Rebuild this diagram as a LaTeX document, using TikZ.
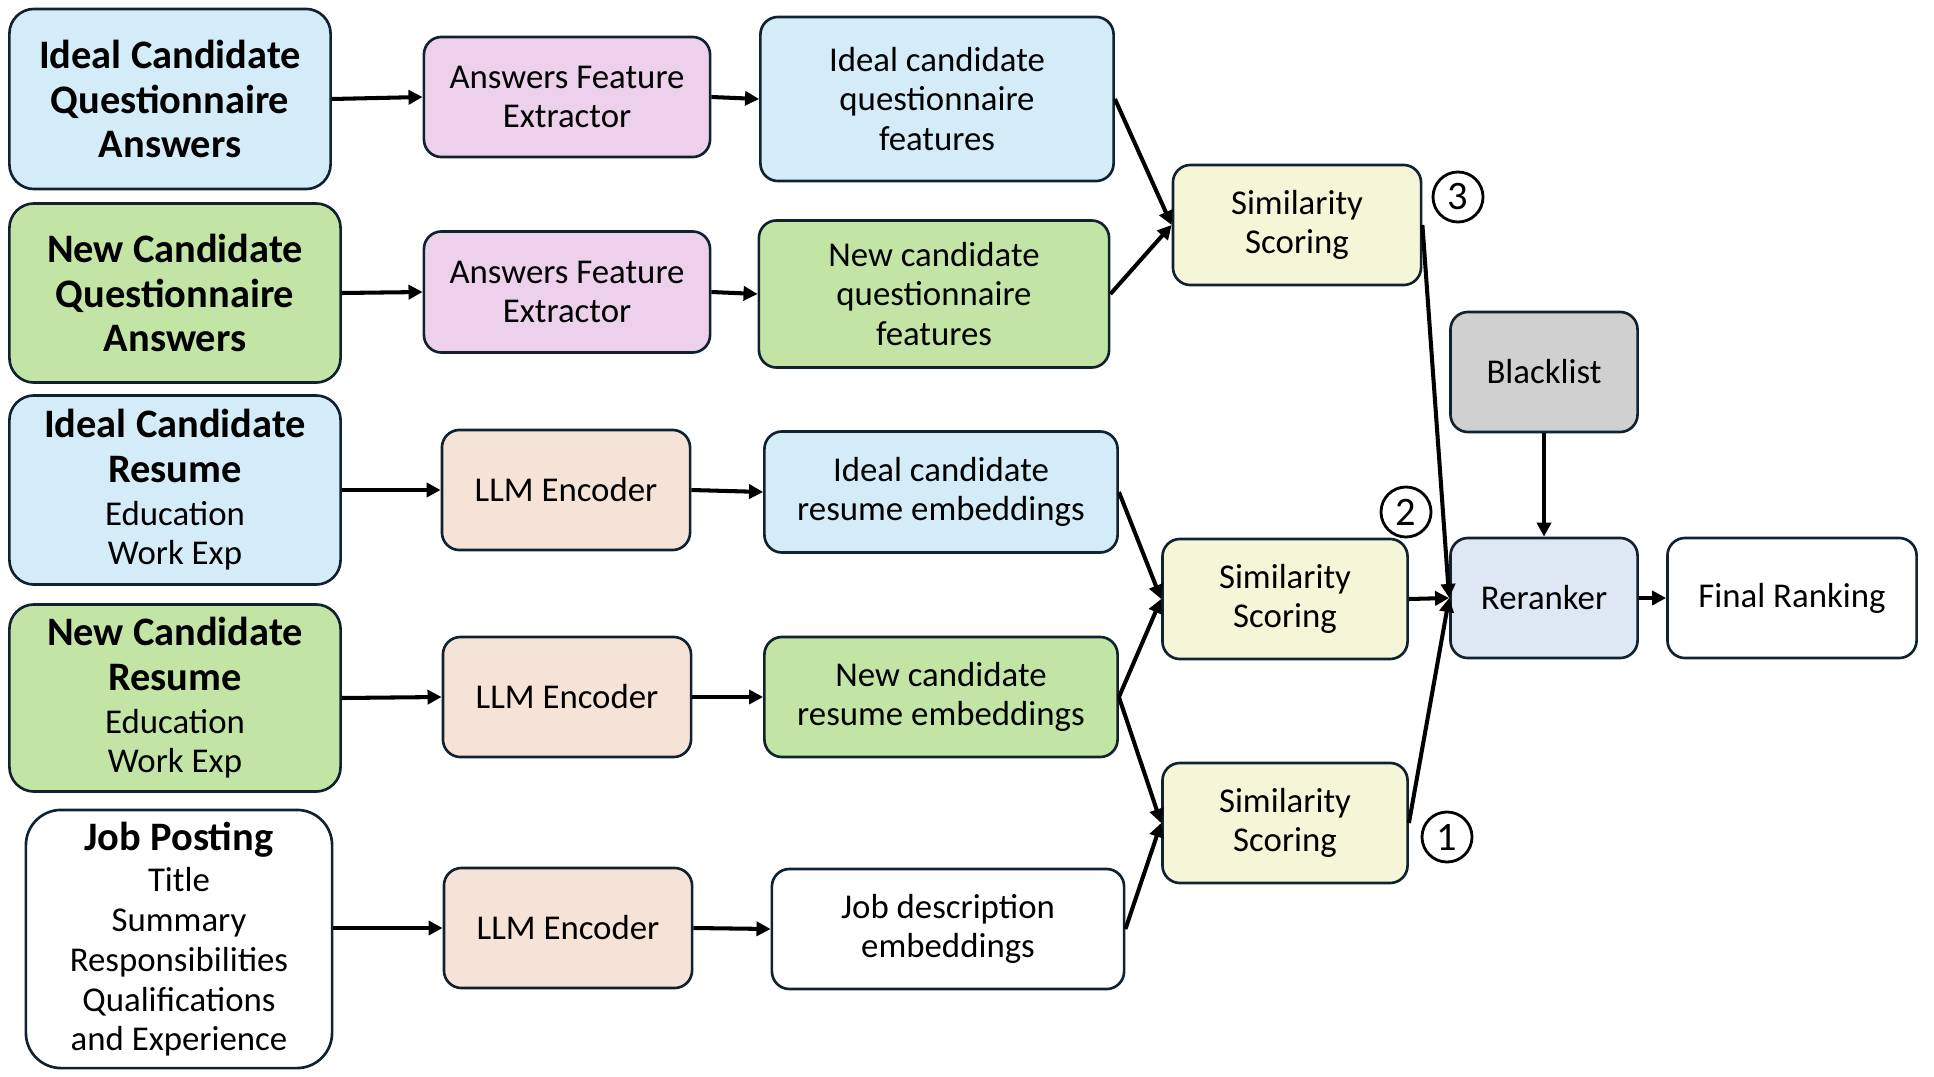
\documentclass[tikz,border=0pt]{standalone}
\usepackage{fontspec}
\setmainfont{Carlito}
\usetikzlibrary{arrows.meta}

\definecolor{boxline}{HTML}{10212F}
\definecolor{idealblue}{HTML}{D3ECF8}
\definecolor{newgreen}{HTML}{C2E5A6}
\definecolor{extpink}{HTML}{EDD1EC}
\definecolor{encpeach}{HTML}{F6E3D8}
\definecolor{simyellow}{HTML}{F5F6D8}
\definecolor{listgray}{HTML}{D0D0D0}
\definecolor{rankblue}{HTML}{DEE8F4}

\newcommand{\basefont}{\fontsize{9.9}{11.3}\selectfont}
\newcommand{\headfont}{\fontsize{11.5}{12.6}\selectfont\bfseries}

\begin{document}
\begin{tikzpicture}[x=0.01cm, y=-0.01cm,
    box/.style={draw=boxline, line width=0.75pt, rounded corners=5pt,
      align=center, inner sep=1pt, font=\basefont},
    bigbox/.style={box, rounded corners=7pt},
    flow/.style={-{Triangle[length=4pt,width=4pt]}, line width=1.15pt},
    num/.style={circle, draw, line width=0.8pt, fill=white, inner sep=0pt,
      minimum size=0.5cm, font=\fontsize{11.5}{13}\selectfont}
  ]
  \useasboundingbox (0,0) rectangle (1934,1076);

  % Inputs
  \node[bigbox, fill=idealblue, minimum width=3.21cm, minimum height=1.8cm, font=\headfont]
    (iqa) at (170,99) {Ideal Candidate\\Questionnaire\\Answers};
  \node[bigbox, fill=newgreen, minimum width=3.31cm, minimum height=1.79cm, font=\headfont]
    (nqa) at (175,293) {New Candidate\\Questionnaire\\Answers};
  \node[bigbox, fill=idealblue, minimum width=3.31cm, minimum height=1.89cm]
    (ir) at (175,490) {{\headfont Ideal Candidate}\\[1.3pt]{\headfont Resume}\\[0.9pt]Education\\Work Exp};
  \node[bigbox, fill=newgreen, minimum width=3.31cm, minimum height=1.87cm]
    (nr) at (175,698) {{\headfont New Candidate}\\[1.3pt]{\headfont Resume}\\[0.9pt]Education\\Work Exp};
  \node[bigbox, rounded corners=10pt, fill=white, minimum width=3.06cm, minimum height=2.58cm]
    (job) at (179,939) {{\headfont Job Posting}\\[0.6pt]Title\\Summary\\Responsibilities\\Qualifications\\and Experience};

  % Extractors and encoders
  \node[box, fill=extpink, minimum width=2.86cm, minimum height=1.2cm] (fx1) at (567,97) {Answers Feature\\Extractor};
  \node[box, fill=extpink, minimum width=2.86cm, minimum height=1.21cm] (fx2) at (567,292) {Answers Feature\\Extractor};
  \node[box, fill=encpeach, minimum width=2.48cm, minimum height=1.2cm] (enc1) at (566,490) {LLM Encoder};
  \node[box, fill=encpeach, minimum width=2.48cm, minimum height=1.2cm] (enc2) at (567,697) {LLM Encoder};
  \node[box, fill=encpeach, minimum width=2.48cm, minimum height=1.2cm] (enc3) at (568,928) {LLM Encoder};

  % Features and embeddings
  \node[box, fill=idealblue, minimum width=3.53cm, minimum height=1.64cm] (iqf) at (937,99) {Ideal candidate\\questionnaire\\features};
  \node[box, fill=newgreen, minimum width=3.5cm, minimum height=1.47cm] (nqf) at (934,294) {New candidate\\questionnaire\\features};
  \node[box, fill=idealblue, minimum width=3.53cm, minimum height=1.21cm] (ire) at (941,492) {Ideal candidate\\resume embeddings};
  \node[box, fill=newgreen, minimum width=3.53cm, minimum height=1.2cm] (nre) at (941,697) {New candidate\\resume embeddings};
  \node[box, fill=white, minimum width=3.52cm, minimum height=1.2cm] (jde) at (948,929) {Job description\\embeddings};

  % Scoring
  \node[box, fill=simyellow, minimum width=2.48cm, minimum height=1.2cm] (sim3) at (1297,225) {Similarity\\Scoring};
  \node[box, fill=simyellow, minimum width=2.45cm, minimum height=1.2cm] (sim2) at (1285,599) {Similarity\\Scoring};
  \node[box, fill=simyellow, minimum width=2.45cm, minimum height=1.2cm] (sim1) at (1285,823) {Similarity\\Scoring};
  \node[num] (n3) at (1458,197) {3};
  \node[num] (n2) at (1406,512) {2};
  \node[num] (n1) at (1447,837) {1};

  \node[box, fill=listgray, minimum width=1.87cm, minimum height=1.2cm] (black) at (1544,372) {Blacklist};
  \node[box, fill=rankblue, minimum width=1.87cm, minimum height=1.2cm] (rerank) at (1544,598) {Reranker};
  \node[box, fill=white, minimum width=2.49cm, minimum height=1.2cm] (final) at (1792,598) {Final Ranking};

  % Connections
  \draw[flow] (iqa.east) -- (fx1.west);
  \draw[flow] (fx1.east) -- (iqf.west);
  \draw[flow] (nqa.east) -- (fx2.west);
  \draw[flow] (fx2.east) -- (nqf.west);
  \draw[flow] (ir.east) -- (enc1.west);
  \draw[flow] (enc1.east) -- (ire.west);
  \draw[flow] (nr.east) -- (enc2.west);
  \draw[flow] (enc2.east) -- (nre.west);
  \draw[flow] (job.east |- enc3.west) -- (enc3.west);
  \draw[flow] (enc3.east) -- (jde.west);

  \draw[flow] (iqf.east) -- (sim3.west);
  \draw[flow] (nqf.east) -- (sim3.west);
  \draw[flow] (ire.east) -- (sim2.west);
  \draw[flow] (nre.east) -- (sim2.west);
  \draw[flow] (nre.east) -- (sim1.west);
  \draw[flow] (jde.east) -- (sim1.west);

  \draw[flow] (sim3.east) -- (rerank.west);
  \draw[flow] (sim2.east) -- (rerank.west);
  \draw[flow] (sim1.east) -- (rerank.west);
  \draw[flow] (black.south) -- (rerank.north);
  \draw[flow] (rerank.east) -- (final.west);
\end{tikzpicture}
\end{document}
